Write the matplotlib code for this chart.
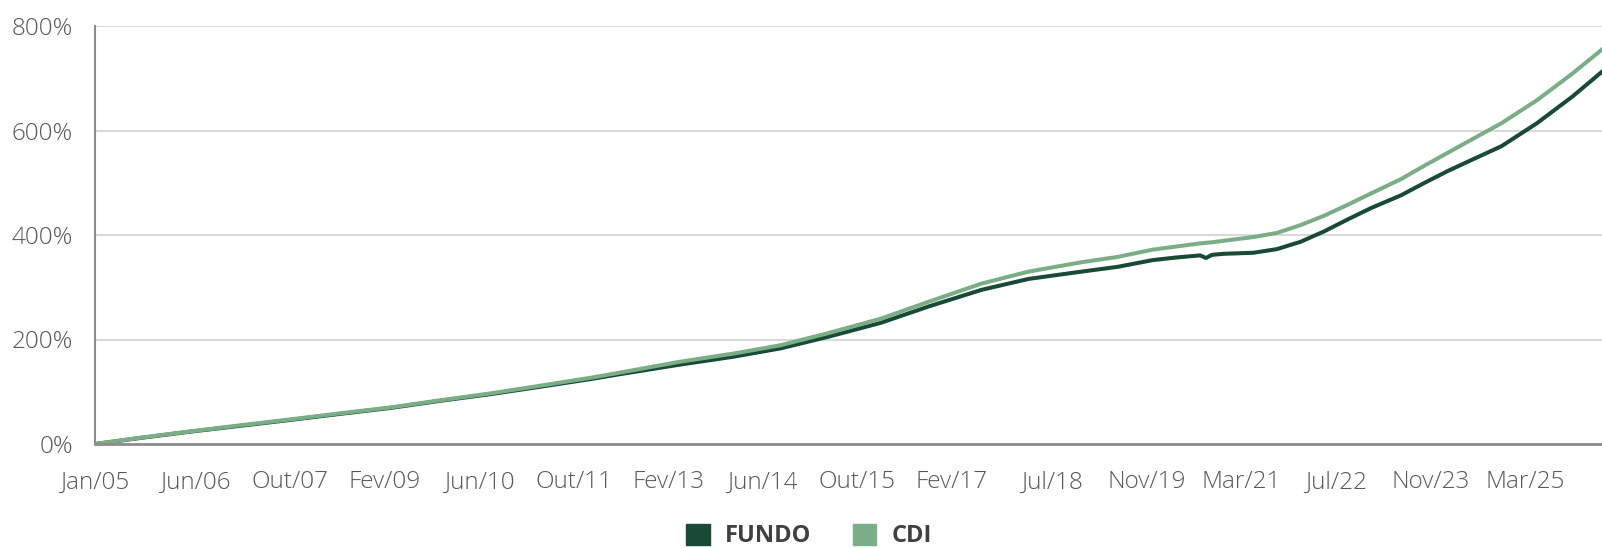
import matplotlib
matplotlib.use('Agg')
import matplotlib.pyplot as plt
from matplotlib.patches import Patch

# months since Jan/05 and cumulative return (%) for each series
months = [0, 8, 16, 24, 33, 41, 50, 58, 67, 75, 84, 89, 99, 108, 116, 124,
          133, 141, 150, 158, 167, 173, 179, 183, 187, 188, 189, 191, 196,
          200, 204, 208, 212, 216, 221, 225, 229, 233, 238, 244, 250, 255]
cdi = [0, 12.5, 24, 35, 47, 58, 70, 83, 97, 111, 127, 137, 157.5, 173, 189,
       212, 240, 272, 307, 330, 348, 358, 372, 378, 384, 385, 386, 389, 396,
       404, 419, 437, 458, 480, 507, 533, 558, 583, 614, 658, 709, 755]
fundo = [0, 12, 23.5, 34, 46, 57, 69, 82, 95.5, 109, 124.5, 134, 152, 167,
         183, 205, 232, 263, 295, 316, 330, 339, 352, 357, 361, 356, 362,
         364, 366, 373, 387, 407, 430, 452, 476, 500, 523, 544, 570, 614,
         665, 712.5]

tick_months = [0, 17, 33, 49, 65, 81, 97, 113, 129, 145, 162, 178, 194,
               210, 226, 242]
tick_labels = ['Jan/05', 'Jun/06', 'Out/07', 'Fev/09', 'Jun/10', 'Out/11',
               'Fev/13', 'Jun/14', 'Out/15', 'Fev/17', 'Jul/18', 'Nov/19',
               'Mar/21', 'Jul/22', 'Nov/23', 'Mar/25']
y_ticks = [0, 200, 400, 600, 800]

DARK = '#184a36'
LIGHT = '#7bae86'
TEXT = '#595959'

plt.rcParams['font.family'] = ['Open Sans', 'DejaVu Sans']

fig = plt.figure(figsize=(16.02, 5.48), dpi=100)
ax = fig.add_axes([95 / 1602, 104 / 548, 1 - 95 / 1602, 418 / 548])

ax.plot(months, fundo, color=DARK, lw=2.9, zorder=3)
ax.plot(months, cdi, color=LIGHT, lw=2.9, zorder=4)

ax.set_xlim(0, 255)
ax.set_ylim(0, 800)
ax.set_yticks(y_ticks)
ax.set_yticklabels([f'{v}%' for v in y_ticks])
ax.set_xticks(tick_months)
ax.set_xticklabels(tick_labels)

ax.grid(axis='y', color='#d9d9d9', lw=1.5)
ax.set_axisbelow(True)
for s in ['top', 'right']:
    ax.spines[s].set_visible(False)
ax.spines['left'].set_color('#8c8c8c')
ax.spines['left'].set_linewidth(1.5)
ax.spines['bottom'].set_color('#8c8c8c')
ax.spines['bottom'].set_linewidth(2)
ax.spines['bottom'].set_zorder(5)

ax.tick_params(axis='both', length=0, labelsize=17.5, labelcolor=TEXT)
ax.tick_params(axis='y', pad=16)
ax.tick_params(axis='x', pad=19)
for lbl in ax.get_xticklabels() + ax.get_yticklabels():
    lbl.set_fontweight('light')

handles = [Patch(color=DARK, label='FUNDO'), Patch(color=LIGHT, label='CDI')]
leg = fig.legend(handles=handles, loc='center', bbox_to_anchor=(0.505, 0.022),
                 ncol=2, frameon=False, handlelength=1.0, handleheight=1.0,
                 handletextpad=0.65, columnspacing=1.75,
                 prop={'size': 17, 'weight': 'bold'})
for t in leg.get_texts():
    t.set_color('#404040')

fig.savefig('out.png', dpi=100)
